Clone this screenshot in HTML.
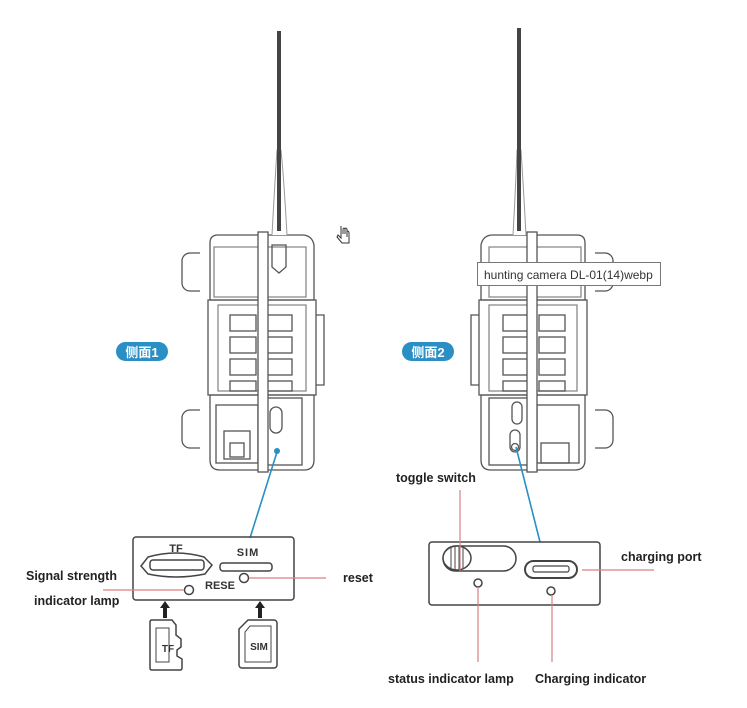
<!DOCTYPE html>
<html><head><meta charset="utf-8"><style>
html,body{margin:0;padding:0;background:#fff;}
svg{display:block;}
text{font-family:"Liberation Sans","Noto Sans CJK SC",sans-serif;}
</style></head><body>
<svg width="747" height="708" viewBox="0 0 747 708" xmlns="http://www.w3.org/2000/svg">
<defs>
<g id="cam" fill="none" stroke="#555" stroke-width="1.3">
  <path d="M-10,18 h-10 a8,8 0 0 0 -8,8 v22 a8,8 0 0 0 8,8 h10"/>
  <path d="M-10,175 h-10 a8,8 0 0 0 -8,8 v22 a8,8 0 0 0 8,8 h10"/>
  <path d="M0,8 q0,-8 8,-8 h84 q10,0 12,10 v55 h-104 z"/>
  <path d="M4,12 h92 v50 h-92 z" stroke="#888"/>
  <path d="M-2,65 h108 v95 h-108 z"/>
  <path d="M8,70 h88 v86 h-88 z" stroke="#888"/>
  <rect x="20" y="80" width="26" height="16"/><rect x="56" y="80" width="26" height="16"/>
  <rect x="20" y="102" width="26" height="16"/><rect x="56" y="102" width="26" height="16"/>
  <rect x="20" y="124" width="26" height="16"/><rect x="56" y="124" width="26" height="16"/>
  <rect x="20" y="146" width="26" height="10"/><rect x="56" y="146" width="26" height="10"/>
  <path d="M0,160 h104 v65 q0,10 -10,10 h-84 q-10,0 -10,-10 z"/>
  <path d="M106,80 h8 v70 h-8"/>
</g>
</defs>

<g transform="translate(210,235)">
  <use href="#cam"/>
  <g fill="none" stroke="#555" stroke-width="1.3">
    <rect x="6" y="170" width="42" height="58"/>
    <rect x="14" y="196" width="26" height="28"/>
    <rect x="20" y="208" width="14" height="14"/>
    <rect x="52" y="163" width="40" height="67"/>
    <rect x="60" y="172" width="12" height="26" rx="6"/>
    <path d="M62,10 h14 v22 l-7,6 l-7,-6 z"/>
  </g>
  <rect x="48" y="-3" width="10" height="240" fill="#fff" stroke="#555" stroke-width="1.3"/>
</g>
<path d="M272,235 Q275,180 277,150 L281,150 Q284,180 287,235" fill="#fff" stroke="#999" stroke-width="1"/>
<rect x="277" y="31" width="4" height="200" fill="#444"/>

<g transform="translate(585,235) scale(-1,1)">
  <use href="#cam"/>
  <g fill="none" stroke="#555" stroke-width="1.3">
    <rect x="6" y="170" width="42" height="58"/>
    <rect x="16" y="208" width="28" height="20"/>
    <rect x="52" y="163" width="44" height="67"/>
  </g>
  <rect x="48" y="-3" width="10" height="240" fill="#fff" stroke="#555" stroke-width="1.3"/>
</g>
<g fill="none" stroke="#555" stroke-width="1.3">
  <rect x="512" y="402" width="10" height="22" rx="5"/>
  <rect x="510" y="430" width="10" height="22" rx="5"/>
  <circle cx="515" cy="447" r="3.5"/>
</g>
<path d="M513,235 Q516,180 517,150 L521,150 Q523,180 526,235" fill="#fff" stroke="#999" stroke-width="1"/>
<rect x="517" y="28" width="4" height="203" fill="#444"/>

<rect x="477.5" y="262.5" width="183" height="23" fill="#fff" stroke="#777"/>
<text x="484" y="279" font-size="12" fill="#333">hunting camera DL-01(14)webp</text>

<path d="M341,226 v12 l-3,-3 l-1,2 l5,6 h7 v-10 q0,-2 -2,-2 v6 M343,234 v-5 q1,-2 2,0 v5 M345,229 q1,-2 2,0 v5" fill="none" stroke="#333" stroke-width="1"/>

<rect x="116" y="342" width="52" height="19" rx="9.5" fill="#2a8fc4"/>
<text x="142" y="357" font-size="13" font-weight="bold" fill="#fff" text-anchor="middle">侧面1</text>
<rect x="402" y="342" width="52" height="19" rx="9.5" fill="#2a8fc4"/>
<text x="428" y="357" font-size="13" font-weight="bold" fill="#fff" text-anchor="middle">侧面2</text>

<line x1="277" y1="452" x2="250" y2="538" stroke="#2a8fc4" stroke-width="1.6"/>
<circle cx="277" cy="451" r="3" fill="#2a8fc4"/>
<line x1="516" y1="447" x2="540" y2="542" stroke="#2a8fc4" stroke-width="1.6"/>

<g fill="none" stroke="#444" stroke-width="1.5">
  <rect x="133" y="537" width="161" height="63" rx="3"/>
  <path d="M148,557 Q176,549 204,557 L212,565 L205,574 Q176,580 148,574 L141,566 Z"/>
  <rect x="150" y="560" width="54" height="10" rx="3"/>
  <rect x="220" y="563" width="52" height="8" rx="3"/>
  <circle cx="189" cy="590" r="4.5"/>
  <circle cx="244" cy="578" r="4.5"/>
  <path d="M150,622 q0,-2 2,-2 h20 l4,5 v10 l5,4 v8 l-4,3 v6 l5,3 v9 q0,2 -2,2 h-28 q-2,0 -2,-2 z"/>
  <path d="M156,628 h13 v34 h-13 z" stroke-width="1"/>
  <path d="M248,620 h26 a3,3 0 0 1 3,3 v42 a3,3 0 0 1 -3,3 h-32 a3,3 0 0 1 -3,-3 v-36 z"/>
  <path d="M250,626 h21 v36 h-26 v-30 z" stroke-width="1"/>
</g>
<text x="176" y="552" font-size="11" font-weight="bold" fill="#333" text-anchor="middle">TF</text>
<text x="248" y="556" font-size="11" font-weight="bold" fill="#333" text-anchor="middle" letter-spacing="1">SIM</text>
<text x="205" y="589" font-size="11" font-weight="bold" fill="#333">RESE</text>
<text x="168" y="652" font-size="10" font-weight="bold" fill="#333" text-anchor="middle">TF</text>
<text x="259" y="650" font-size="10" font-weight="bold" fill="#333" text-anchor="middle">SIM</text>
<path d="M163,618 v-10 h-3 l5,-7 l5,7 h-3 v10 z" fill="#222"/>
<path d="M258,618 v-10 h-3 l5,-7 l5,7 h-3 v10 z" fill="#222"/>
<g stroke="#d98080" stroke-width="1.2">
  <line x1="103" y1="590" x2="184" y2="590"/>
  <line x1="249" y1="578" x2="326" y2="578"/>
</g>
<text x="26" y="580" font-size="12.5" font-weight="bold" fill="#222">Signal strength</text>
<text x="34" y="605" font-size="12.5" font-weight="bold" fill="#222">indicator lamp</text>
<text x="343" y="582" font-size="12.5" font-weight="bold" fill="#222">reset</text>

<g fill="none" stroke="#444" stroke-width="1.5">
  <rect x="429" y="542" width="171" height="63" rx="3"/>
  <rect x="443" y="546" width="73" height="25" rx="12.5"/>
  <rect x="525" y="561" width="52" height="17" rx="8.5" stroke-width="2"/>
  <rect x="533" y="566" width="36" height="6" rx="2" stroke-width="1.2"/>
  <circle cx="478" cy="583" r="4"/>
  <circle cx="551" cy="591" r="4"/>
</g>
<ellipse cx="457" cy="558" rx="14" ry="12" fill="#fff" stroke="#444" stroke-width="1.5"/>
<g stroke="#444" stroke-width="1">
  <line x1="451" y1="548" x2="451" y2="568"/><line x1="455" y1="547" x2="455" y2="569"/>
  <line x1="459" y1="547" x2="459" y2="569"/><line x1="463" y1="548" x2="463" y2="568"/>
</g>
<g stroke="#d98080" stroke-width="1.2">
  <line x1="460" y1="490" x2="460" y2="571"/>
  <line x1="478" y1="587" x2="478" y2="662"/>
  <line x1="552" y1="595" x2="552" y2="662"/>
  <line x1="582" y1="570" x2="654" y2="570"/>
</g>
<text x="396" y="482" font-size="12.5" font-weight="bold" fill="#222">toggle switch</text>
<text x="621" y="561" font-size="12.5" font-weight="bold" fill="#222">charging port</text>
<text x="388" y="683" font-size="12.5" font-weight="bold" fill="#222">status indicator lamp</text>
<text x="535" y="683" font-size="12.5" font-weight="bold" fill="#222">Charging indicator</text>
</svg>
</body></html>
